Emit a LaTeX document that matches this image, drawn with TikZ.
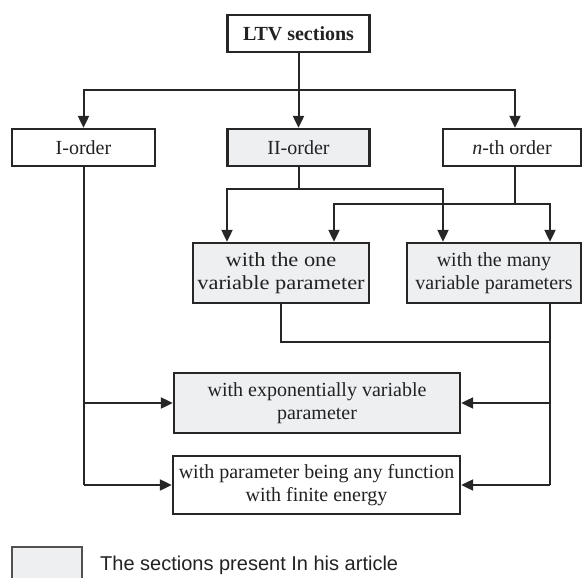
\documentclass[tikz,border=0pt]{standalone}
\usepackage{fontspec}
\setmainfont{Liberation Serif}
\newfontfamily\legendsans{Liberation Sans}
\newfontfamily\wideserif[FakeStretch=1.12]{Liberation Serif}
\usetikzlibrary{arrows.meta}
\definecolor{ink}{HTML}{262626}
\definecolor{secfill}{HTML}{EDEFF1}
\definecolor{txt}{HTML}{222222}
\begin{document}
\begin{tikzpicture}[x=1pt,y=-1pt,
  box/.style={draw=ink, line width=2.3pt, fill=white, text=txt, inner sep=0pt,
              align=center, font=\fontsize{20}{23}\selectfont},
  present/.style={box, fill=secfill},
  link/.style={draw=ink, line width=2pt},
  arr/.style={link, -{Triangle[length=12pt,width=11pt]}},
  keybox/.style={draw=ink!80, line width=1.5pt, fill=secfill, minimum width=70, minimum height=44},
]
\useasboundingbox (0,0) rectangle (584,578);

% section boxes
\node[box, minimum width=142, minimum height=37] (ltv) at (298.5,33.5) {\bfseries LTV sections};
\node[box, minimum width=143, minimum height=37] (iord) at (83.5,147.5) {I-order};
\node[present, minimum width=142, minimum height=37] (iiord) at (298.5,147.5) {II-order};
\node[box, minimum width=138, minimum height=37] (nth) at (512,147.5) {\textit{n}-th order};
\node[present, minimum width=176, minimum height=60, font=\wideserif\fontsize{20}{23}\selectfont] (one) at (281,273) {with the one\\variable parameter};
\node[present, minimum width=174, minimum height=60] (many) at (494,273) {with the many\\variable parameters};
\node[present, minimum width=286, minimum height=60] (expo) at (317,403) {with exponentially variable\\parameter};
\node[box, minimum width=287, minimum height=58] (fin) at (316.5,485) {with parameter being any function\\with finite energy};

% branching from the top box
\coordinate (bus) at (298.5,90);
\draw[arr] (ltv.south) -- (iiord.north);
\draw[arr] (bus) -| (iord.north);
\draw[arr] (bus) -| ([xshift=3pt]nth.north);

% second-order split
\coordinate (iisplit) at (298.5,189);
\draw[link] (iiord.south) -- (iisplit);
\draw[arr] (iisplit) -| ([xshift=-54pt]one.north);
\draw[arr] (iisplit) -| ([xshift=-51pt]many.north);

% n-th order split
\coordinate (nsplit) at (515,204);
\draw[link] ([xshift=3pt]nth.south) -- (nsplit);
\draw[arr] (nsplit) -| ([xshift=53pt]one.north);
\draw[arr] (nsplit) -| ([xshift=56pt]many.north);

% right-hand collector
\coordinate (join) at (550,342);
\coordinate (rmid) at (550,403);
\coordinate (rdrop) at (550,485);
\draw[link] (one.south) |- (join);
\draw[link] ([xshift=56pt]many.south) -- (rdrop);
\draw[arr] (rmid) -- (expo.east);
\draw[arr] (rdrop) -- (fin.east);

% left-hand collector
\coordinate (lmid) at (83.5,403);
\coordinate (ldrop) at (83.5,485);
\draw[link] (iord.south) -- (ldrop);
\draw[arr] (lmid) -- (expo.west);
\draw[arr] (ldrop) -- (fin.west);

% legend
\begin{scope}
  \clip (0,0) rectangle (584,578);
  \node[keybox] (key) at (47,569) {};
\end{scope}
\node[anchor=base west, inner sep=0pt, text=txt, font=\legendsans\fontsize{20}{24}\selectfont] (keytext) at (100,570) {The sections present In his article};
\end{tikzpicture}
\end{document}
